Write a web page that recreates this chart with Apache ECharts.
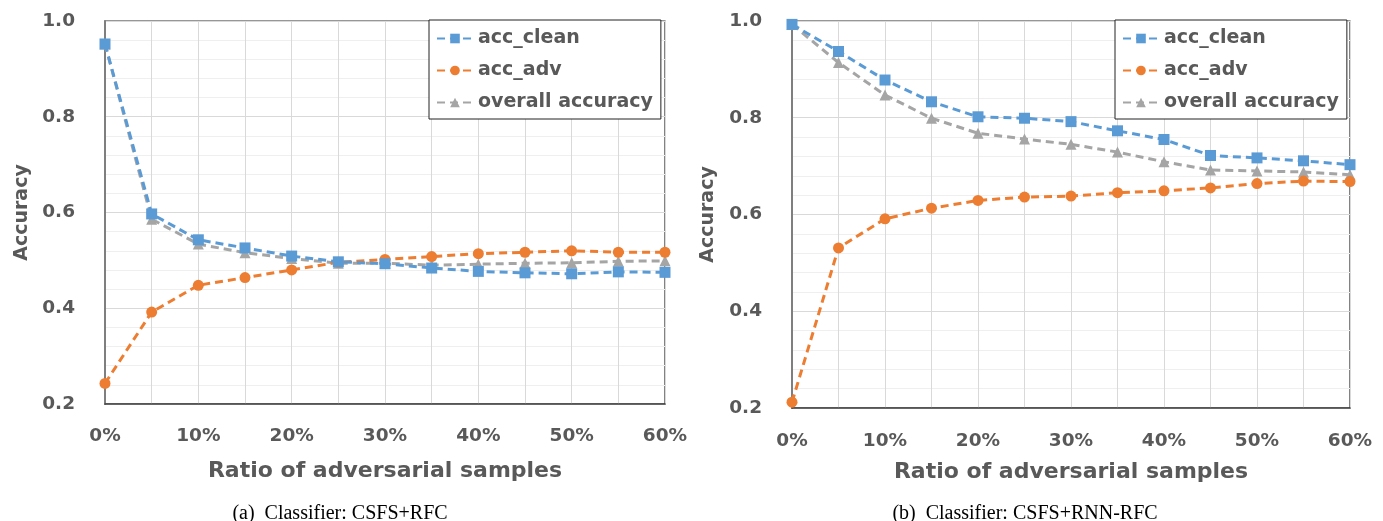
<!DOCTYPE html>
<html><head><meta charset="utf-8">
<script src="https://cdn.jsdelivr.net/npm/echarts@6/dist/echarts.min.js"></script>
<style>html,body{margin:0;padding:0;background:#fff}#c{width:1383px;height:521px}</style>
</head><body><div id="c"></div>
<script>
const categories = ['0%','5%','10%','15%','20%','25%','30%','35%','40%','45%','50%','55%','60%'];
const seriesNames = ['acc_clean','acc_adv','overall accuracy'];
// (a) CSFS+RFC
const aClean   = [0.952,0.597,0.543,0.526,0.509,0.497,0.493,0.484,0.477,0.474,0.472,0.476,0.475];
const aAdv     = [0.243,0.392,0.448,0.464,0.480,0.496,0.502,0.508,0.514,0.517,0.520,0.517,0.517];
const aOverall = [0.952,0.586,0.534,0.516,0.504,0.494,0.494,0.490,0.492,0.494,0.495,0.498,0.499];
// (b) CSFS+RNN-RFC
const bClean   = [0.993,0.937,0.878,0.833,0.802,0.799,0.792,0.773,0.755,0.722,0.717,0.711,0.703];
const bAdv     = [0.212,0.531,0.591,0.613,0.629,0.636,0.638,0.645,0.649,0.655,0.664,0.669,0.668];
const bOverall = [0.993,0.914,0.847,0.799,0.768,0.756,0.745,0.729,0.709,0.692,0.690,0.688,0.682];
const captions = ['(a)  Classifier: CSFS+RFC','(b)  Classifier: CSFS+RNN-RFC'];
const xTitle = 'Ratio of adversarial samples';
const yTitle = 'Accuracy';

const colors = ['#5B9BD5','#ED7D31','#A5A5A5'];
const symbols = ['rect','circle','triangle'];
const symSizes = [11,11,11];
const txt = '#595959';
const font = 'DejaVu Sans';

const chart = echarts.init(document.getElementById('c'), null, {renderer:'canvas'});
const grids = [
  {left:105, top:21, width:560, height:383},
  {left:792, top:21, width:558, height:387}
];
function xAxis(i){
  return {type:'category', gridIndex:i, data:categories, boundaryGap:false,
    axisLine:{show:true, lineStyle:{color:'#404040', width:1.5}},
    axisTick:{show:false},
    axisLabel:{interval:1, color:txt, fontFamily:font, fontWeight:'bold', fontSize:18.5, margin:i?24:23},
    splitLine:{show:true, interval:0, lineStyle:{color:'#d9d9d9', width:1}},
    name:xTitle, nameLocation:'middle', nameGap:i?53:56,
    nameTextStyle:{color:txt, fontFamily:font, fontWeight:'bold', fontSize:22}};
}
function yAxis(i){
  return {type:'value', gridIndex:i, min:0.2, max:1.0, interval:0.2,
    axisLine:{show:true, lineStyle:{color:'#7f7f7f', width:2}},
    axisTick:{show:false},
    axisLabel:{formatter:v=>v.toFixed(1), color:txt, fontFamily:font, fontWeight:'bold', fontSize:18.5, margin:30},
    splitLine:{show:true, lineStyle:{color:'#d9d9d9', width:1}},
    minorTick:{show:false, splitNumber:5},
    minorSplitLine:{show:true, lineStyle:{color:'#efefef', width:1}},
    name:yTitle, nameLocation:'middle', nameGap:i?74:73,
    nameTextStyle:{color:txt, fontFamily:font, fontWeight:'bold', fontSize:19}};
}
const data = [[aClean,aAdv,aOverall],[bClean,bAdv,bOverall]];
const series = [];
for (let g=0; g<2; g++){
  for (let s=0; s<3; s++){
    series.push({name:seriesNames[s], type:'line', xAxisIndex:g, yAxisIndex:g,
      data:data[g][s], symbol:symbols[s], symbolSize:symSizes[s], z:10-s,
      lineStyle:{color:colors[s], width:3, type:[8,5]},
      itemStyle:{color:colors[s]}});
  }
}
function legend(i){
  return {show:true, orient:'vertical', left:i?1115:429, top:20,
    width:i?240:233,
    backgroundColor:'#fff', borderColor:'#222', borderWidth:1, padding:[9,8,7,7],
    itemGap:13, itemWidth:36, itemHeight:12,
    data:seriesNames.map(n=>({name:n})),
    textStyle:{color:txt, fontFamily:font, fontWeight:'bold', fontSize:19},
    selectedMode:false};
}
chart.setOption({
  animation:false,
  grid:grids.map(g=>Object.assign({show:true, borderColor:'#303030', borderWidth:1.2, backgroundColor:'transparent', containLabel:false}, g)),
  xAxis:[xAxis(0), xAxis(1)],
  yAxis:[yAxis(0), yAxis(1)],
  legend:[legend(0), legend(1)],
  series:series,
  title:[
    {text:captions[0], left:335, top:499, textAlign:'center', textStyle:{fontFamily:'Liberation Serif', fontWeight:'normal', fontSize:20, color:'#000'}},
    {text:captions[1], left:1020, top:499, textAlign:'center', textStyle:{fontFamily:'Liberation Serif', fontWeight:'normal', fontSize:20, color:'#000'}}
  ]
});
</script></body></html>
